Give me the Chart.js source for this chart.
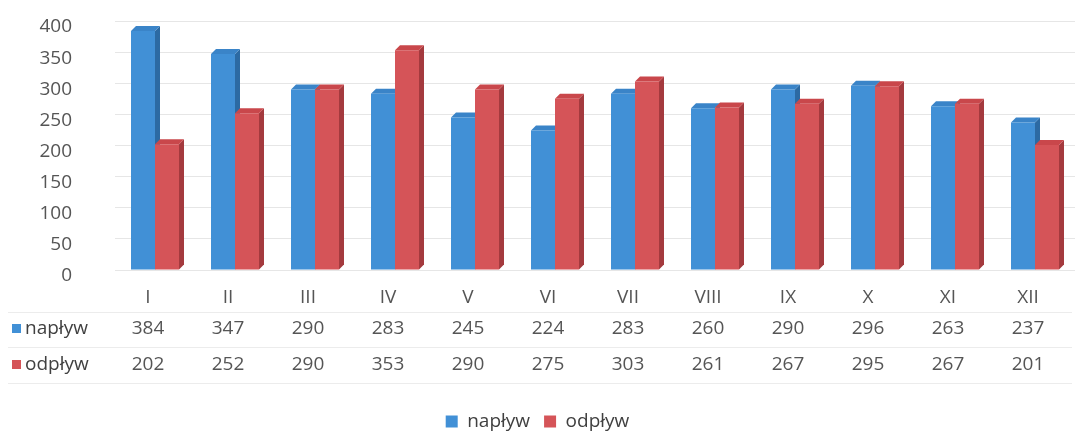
<!DOCTYPE html>
<html>
<head>
<meta charset="utf-8">
<script src="https://cdn.jsdelivr.net/npm/chart.js@4/dist/chart.umd.min.js"></script>
<style>
  html, body { margin: 0; padding: 0; background: #fff; }
  #wrap { width: 1081px; height: 435px; }
</style>
</head>
<body>
<div id="wrap"><canvas id="wykres"></canvas></div>
<script>
const miesiace = ['I', 'II', 'III', 'IV', 'V', 'VI', 'VII', 'VIII', 'IX', 'X', 'XI', 'XII'];
const naplyw = [384, 347, 290, 283, 245, 224, 283, 260, 290, 296, 263, 237];
const odplyw = [202, 252, 290, 353, 290, 275, 303, 261, 267, 295, 267, 201];
const yTicks = [0, 50, 100, 150, 200, 250, 300, 350, 400];

const FONT = '"Open Sans", "Noto Sans", sans-serif';
const TEXT = '#555555';
const DEPTH = 5;        // glebokosc efektu 3D
const LABEL_SHIFT = -7; // etykiety troche na lewo od slupkow

const kolory = [
    { front: '#4190d6', side: '#2c6aa3', top: '#3a84c8' },
    { front: '#d55458', side: '#a43a3e', top: '#c9474b' }
];

// boki i wierzch slupkow (efekt 3D)
const bary3d = {
    id: 'bary3d',
    beforeDatasetsDraw(chart) {
        const ctx = chart.ctx;
        chart.data.datasets.forEach((ds, i) => {
            const meta = chart.getDatasetMeta(i);
            meta.data.forEach(bar => {
                const p = bar.getProps(['x', 'y', 'base', 'width'], true);
                const l = p.x - p.width / 2, r = p.x + p.width / 2;
                ctx.save();
                ctx.fillStyle = kolory[i].side;
                ctx.beginPath();
                ctx.moveTo(r, p.y);
                ctx.lineTo(r + DEPTH, p.y - DEPTH);
                ctx.lineTo(r + DEPTH, p.base - DEPTH);
                ctx.lineTo(r, p.base);
                ctx.closePath();
                ctx.fill();
                ctx.fillStyle = kolory[i].top;
                ctx.beginPath();
                ctx.moveTo(l, p.y);
                ctx.lineTo(l + DEPTH, p.y - DEPTH);
                ctx.lineTo(r + DEPTH, p.y - DEPTH);
                ctx.lineTo(r, p.y);
                ctx.closePath();
                ctx.fill();
                ctx.restore();
            });
        });
    }
};

// tabela danych pod wykresem
const tabela = {
    id: 'tabela',
    afterDraw(chart) {
        const ctx = chart.ctx;
        const xs = chart.scales.x;
        const wiersze = [
            { nazwa: 'napływ', dane: naplyw, y: 329 },
            { nazwa: 'odpływ', dane: odplyw, y: 365 }
        ];
        ctx.save();
        ctx.strokeStyle = '#ececec';
        ctx.lineWidth = 1;
        [312, 347, 383].forEach(ly => {
            ctx.beginPath();
            ctx.moveTo(8, ly + 0.5);
            ctx.lineTo(1072, ly + 0.5);
            ctx.stroke();
        });
        ctx.font = '19px ' + FONT;
        ctx.textBaseline = 'middle';
        wiersze.forEach((w, i) => {
            ctx.fillStyle = kolory[i].front;
            ctx.fillRect(12, w.y - 5, 9, 9);
            ctx.fillStyle = '#404040';
            ctx.textAlign = 'left';
            ctx.fillText(w.nazwa, 25, w.y);
            ctx.fillStyle = TEXT;
            ctx.textAlign = 'center';
            w.dane.forEach((v, k) => {
                ctx.fillText(String(v), xs.getPixelForValue(k) + LABEL_SHIFT, w.y);
            });
        });
        ctx.restore();
    }
};

new Chart(document.getElementById('wykres'), {
    type: 'bar',
    data: {
        labels: miesiace,
        datasets: [
            { label: 'napływ', data: naplyw, backgroundColor: kolory[0].front },
            { label: 'odpływ', data: odplyw, backgroundColor: kolory[1].front }
        ]
    },
    options: {
        responsive: true,
        maintainAspectRatio: false,
        animation: false,
        categoryPercentage: 0.6,
        barPercentage: 1.0,
        layout: { padding: { top: 0, right: 6, left: 0, bottom: -6 } },
        plugins: {
            legend: {
                position: 'bottom',
                labels: {
                    boxWidth: 12,
                    boxHeight: 12,
                    padding: 14,
                    color: '#404040',
                    font: { family: FONT, size: 19 }
                }
            },
            tooltip: { enabled: false }
        },
        scales: {
            x: {
                grid: { display: false, drawTicks: false },
                border: { display: false },
                ticks: {
                    color: TEXT,
                    padding: 16,
                    labelOffset: LABEL_SHIFT,
                    font: { family: FONT, size: 19 }
                },
                afterFit(scale) { scale.height = 128; }
            },
            y: {
                min: 0,
                max: 400,
                afterBuildTicks(scale) { scale.ticks = yTicks.map(v => ({ value: v })); },
                grid: { color: '#e6e6e6', drawTicks: false },
                border: { display: false },
                ticks: {
                    color: TEXT,
                    padding: 43,
                    labelOffset: 6,
                    font: { family: FONT, size: 19 }
                },
                afterFit(scale) {
                    scale.width = 115;
                    scale.paddingTop = 21;
                    scale.paddingBottom = 0;
                }
            }
        }
    },
    plugins: [bary3d, tabela]
});
</script>
</body>
</html>
